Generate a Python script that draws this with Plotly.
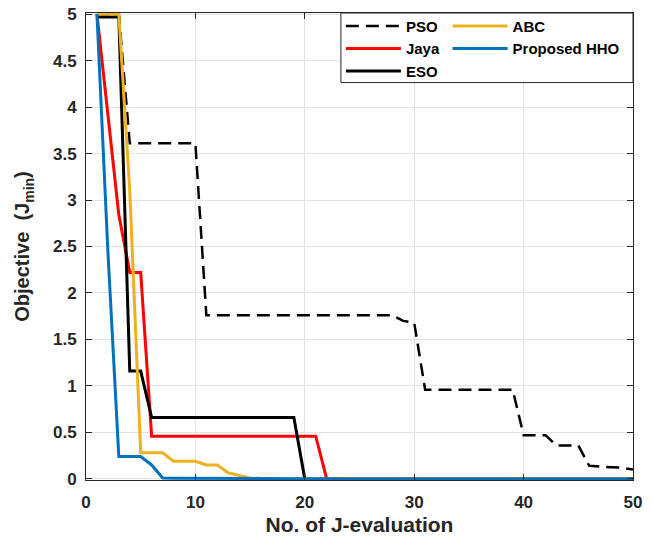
import plotly.graph_objects as go

x_eval = list(range(1, 51))

pso = [5, 5, 5, 3.61, 3.61, 3.61, 3.61, 3.61, 3.61, 3.61,
       1.76, 1.76, 1.76, 1.76, 1.76, 1.76, 1.76, 1.76, 1.76, 1.76,
       1.76, 1.76, 1.76, 1.76, 1.76, 1.76, 1.76, 1.76, 1.70, 1.68,
       0.96, 0.96, 0.96, 0.96, 0.96, 0.96, 0.96, 0.96, 0.96, 0.47,
       0.47, 0.47, 0.36, 0.36, 0.36, 0.14, 0.13, 0.125, 0.12, 0.10]

jaya = [5, 3.95, 2.84, 2.22, 2.22] + [0.46] * 16 + [0.0] * 29

eso = [4.97, 4.97, 4.97, 1.16, 1.16] + [0.66] * 14 + [0.0] * 31

abc = [5, 5, 5, 3.1, 0.28, 0.28, 0.28, 0.19, 0.19, 0.19,
       0.15, 0.15, 0.065, 0.035, 0.01, 0.005, 0.003, 0.002, 0.001, 0.001] + [0.0] * 30

hho = [5, 2.45, 0.24, 0.24, 0.24, 0.15, 0.01, 0.008, 0.007, 0.006,
       0.005, 0.004, 0.003, 0.002, 0.001] + [0.0] * 35

x_ticks = [0, 10, 20, 30, 40, 50]
y_ticks = [0, 0.5, 1, 1.5, 2, 2.5, 3, 3.5, 4, 4.5, 5]
y_tick_text = ["0", "0.5", "1", "1.5", "2", "2.5", "3", "3.5", "4", "4.5", "5"]

FONT = "Liberation Sans, Arial, sans-serif"
AX = "#262626"

fig = go.Figure()
fig.add_trace(go.Scatter(x=x_eval, y=pso, name="PSO", mode="lines",
                         line=dict(color="black", width=2.5, dash="13px,7px"), legend="legend"))
fig.add_trace(go.Scatter(x=x_eval, y=jaya, name="Jaya", mode="lines",
                         line=dict(color="#FF0000", width=3), legend="legend"))
fig.add_trace(go.Scatter(x=x_eval, y=eso, name="ESO", mode="lines",
                         line=dict(color="black", width=3), legend="legend"))
fig.add_trace(go.Scatter(x=x_eval, y=abc, name="ABC", mode="lines",
                         line=dict(color="#EDB120", width=3), legend="legend2"))
fig.add_trace(go.Scatter(x=x_eval, y=hho, name="Proposed HHO", mode="lines",
                         line=dict(color="#0072BD", width=3), legend="legend2"))

legend_common = dict(
    font=dict(family=FONT, size=15, color="black", weight="bold"),
    bgcolor="rgba(0,0,0,0)", borderwidth=0, itemwidth=55,
    yanchor="top", y=1.007, xanchor="left", tracegroupgap=0,
    traceorder="normal",
)

fig.update_layout(
    width=653, height=537,
    margin=dict(l=86, r=20, t=13, b=57, autoexpand=False),
    plot_bgcolor="white", paper_bgcolor="white",
    font=dict(family=FONT, color=AX),
    showlegend=True,
    legend=dict(x=0.466, **legend_common),
    legend2=dict(x=0.661, **legend_common),
    shapes=[dict(type="rect", xref="paper", yref="paper", x0=0.466, x1=1.0,
                 y0=0.851, y1=1.0, line=dict(color=AX, width=1),
                 fillcolor="white", layer="above")],
)

fig.update_xaxes(
    range=[0, 50], tickvals=x_ticks, automargin=False,
    showgrid=True, gridcolor="#E3E3E3", gridwidth=1,
    showline=True, linecolor=AX, linewidth=1, mirror="ticks",
    ticks="inside", ticklen=6, tickcolor=AX,
    tickfont=dict(family=FONT, size=17, color=AX, weight="bold"),
    ticklabelstandoff=7,
    zeroline=False,
    title=dict(text="No. of J-evaluation", standoff=5,
               font=dict(family=FONT, size=21, color=AX, weight="bold")),
)
fig.update_yaxes(
    range=[-0.012, 5.012], tickvals=y_ticks, ticktext=y_tick_text, automargin=False,
    showgrid=True, gridcolor="#E3E3E3", gridwidth=1,
    showline=True, linecolor=AX, linewidth=1, mirror="ticks",
    ticks="inside", ticklen=6, tickcolor=AX,
    tickfont=dict(family=FONT, size=17, color=AX, weight="bold"),
    ticklabelstandoff=5,
    zeroline=False,
    title=dict(text="Objective  (J<sub>min</sub>)", standoff=17,
               font=dict(family=FONT, size=20, color=AX, weight="bold")),
)

fig.write_html("out.html", config={"displayModeBar": False},
               post_script="document.body.style.margin='0';document.body.style.overflow='hidden';")
